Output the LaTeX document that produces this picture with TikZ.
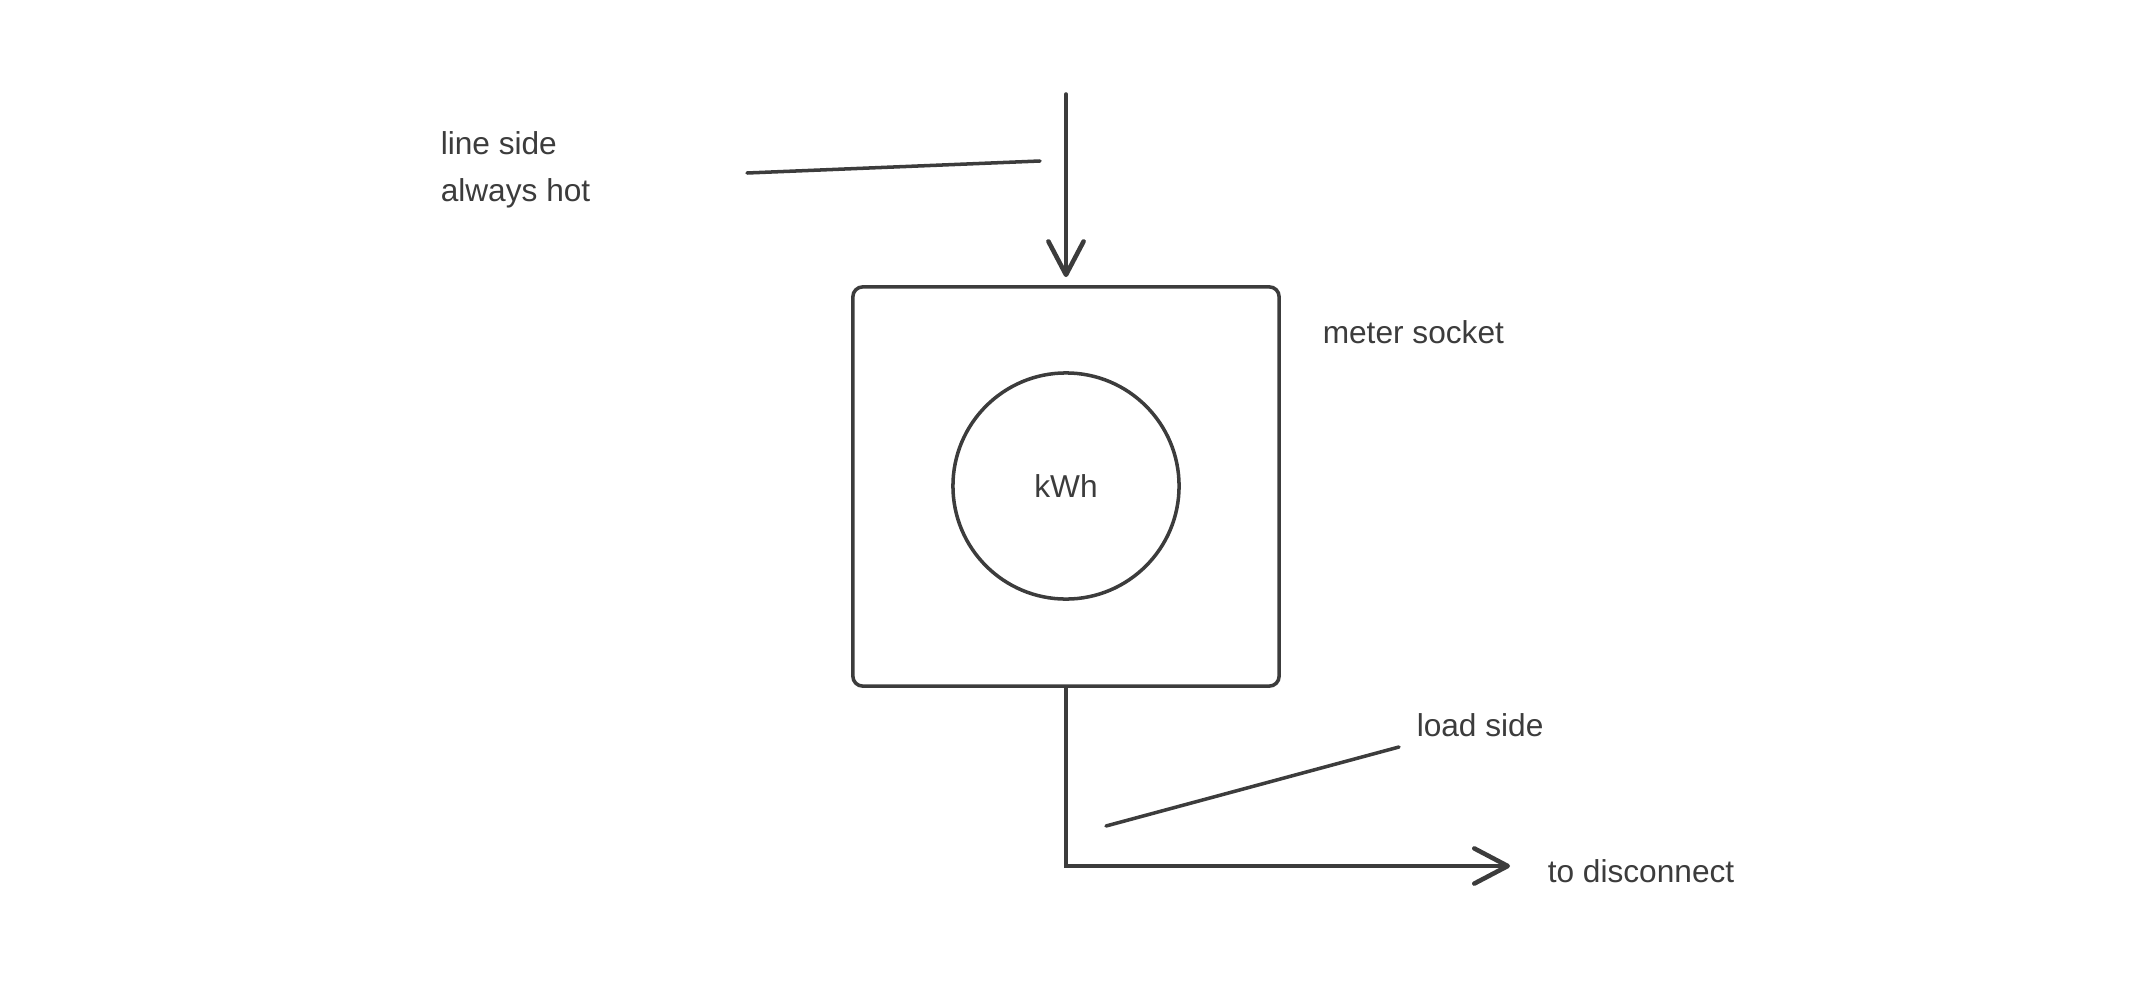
\documentclass[tikz,border=0pt]{standalone}
\usepackage{fontspec}
\setmainfont{Liberation Sans}
\usetikzlibrary{arrows.meta}
\definecolor{ink}{HTML}{3C3C3C}
\begin{document}
\begin{tikzpicture}
[
x=0.01cm, y=-0.01cm,
color=ink, line width=1pt, line cap=round,
every node/.style={text=ink, font=\fontsize{9}{13.4}\selectfont},
tip/.style={-{Straight Barb[length=9.5pt,width=10pt,round,line width=1.3pt]}},
txt/.style={anchor=west, align=left, inner sep=0pt}
]
\useasboundingbox (0,0) rectangle (2133,1000);

\node[draw, rounded corners=2.8pt, minimum width=4.26cm, minimum height=3.99cm, inner sep=0pt] (meter) at (1066,486.5) {};
\node[draw, circle, minimum size=2.26cm] (kwh) at (1066,486) {kWh};

\node[txt] (linelab) at (439,170) {line side\\always hot};
\node[txt] (meterlab) at (1321,332) {meter socket};
\node[txt] (loadlab) at (1415,725) {load side};
\node[txt] (outlab) at (1546,871) {to disconnect};

\coordinate (feed) at (1066,94);
\coordinate (out) at (1510,866);
\draw[tip] (feed) -- ([yshift=0.08cm]meter.north);
\draw[tip] (meter.south) |- (out);

% leader lines
\coordinate (l1) at (747,173);
\coordinate (l2) at (1040,161);
\coordinate (l3) at (1106,826);
\coordinate (l4) at (1399,747);
\draw (l1) -- (l2);
\draw (l3) -- (l4);
\end{tikzpicture}
\end{document}
